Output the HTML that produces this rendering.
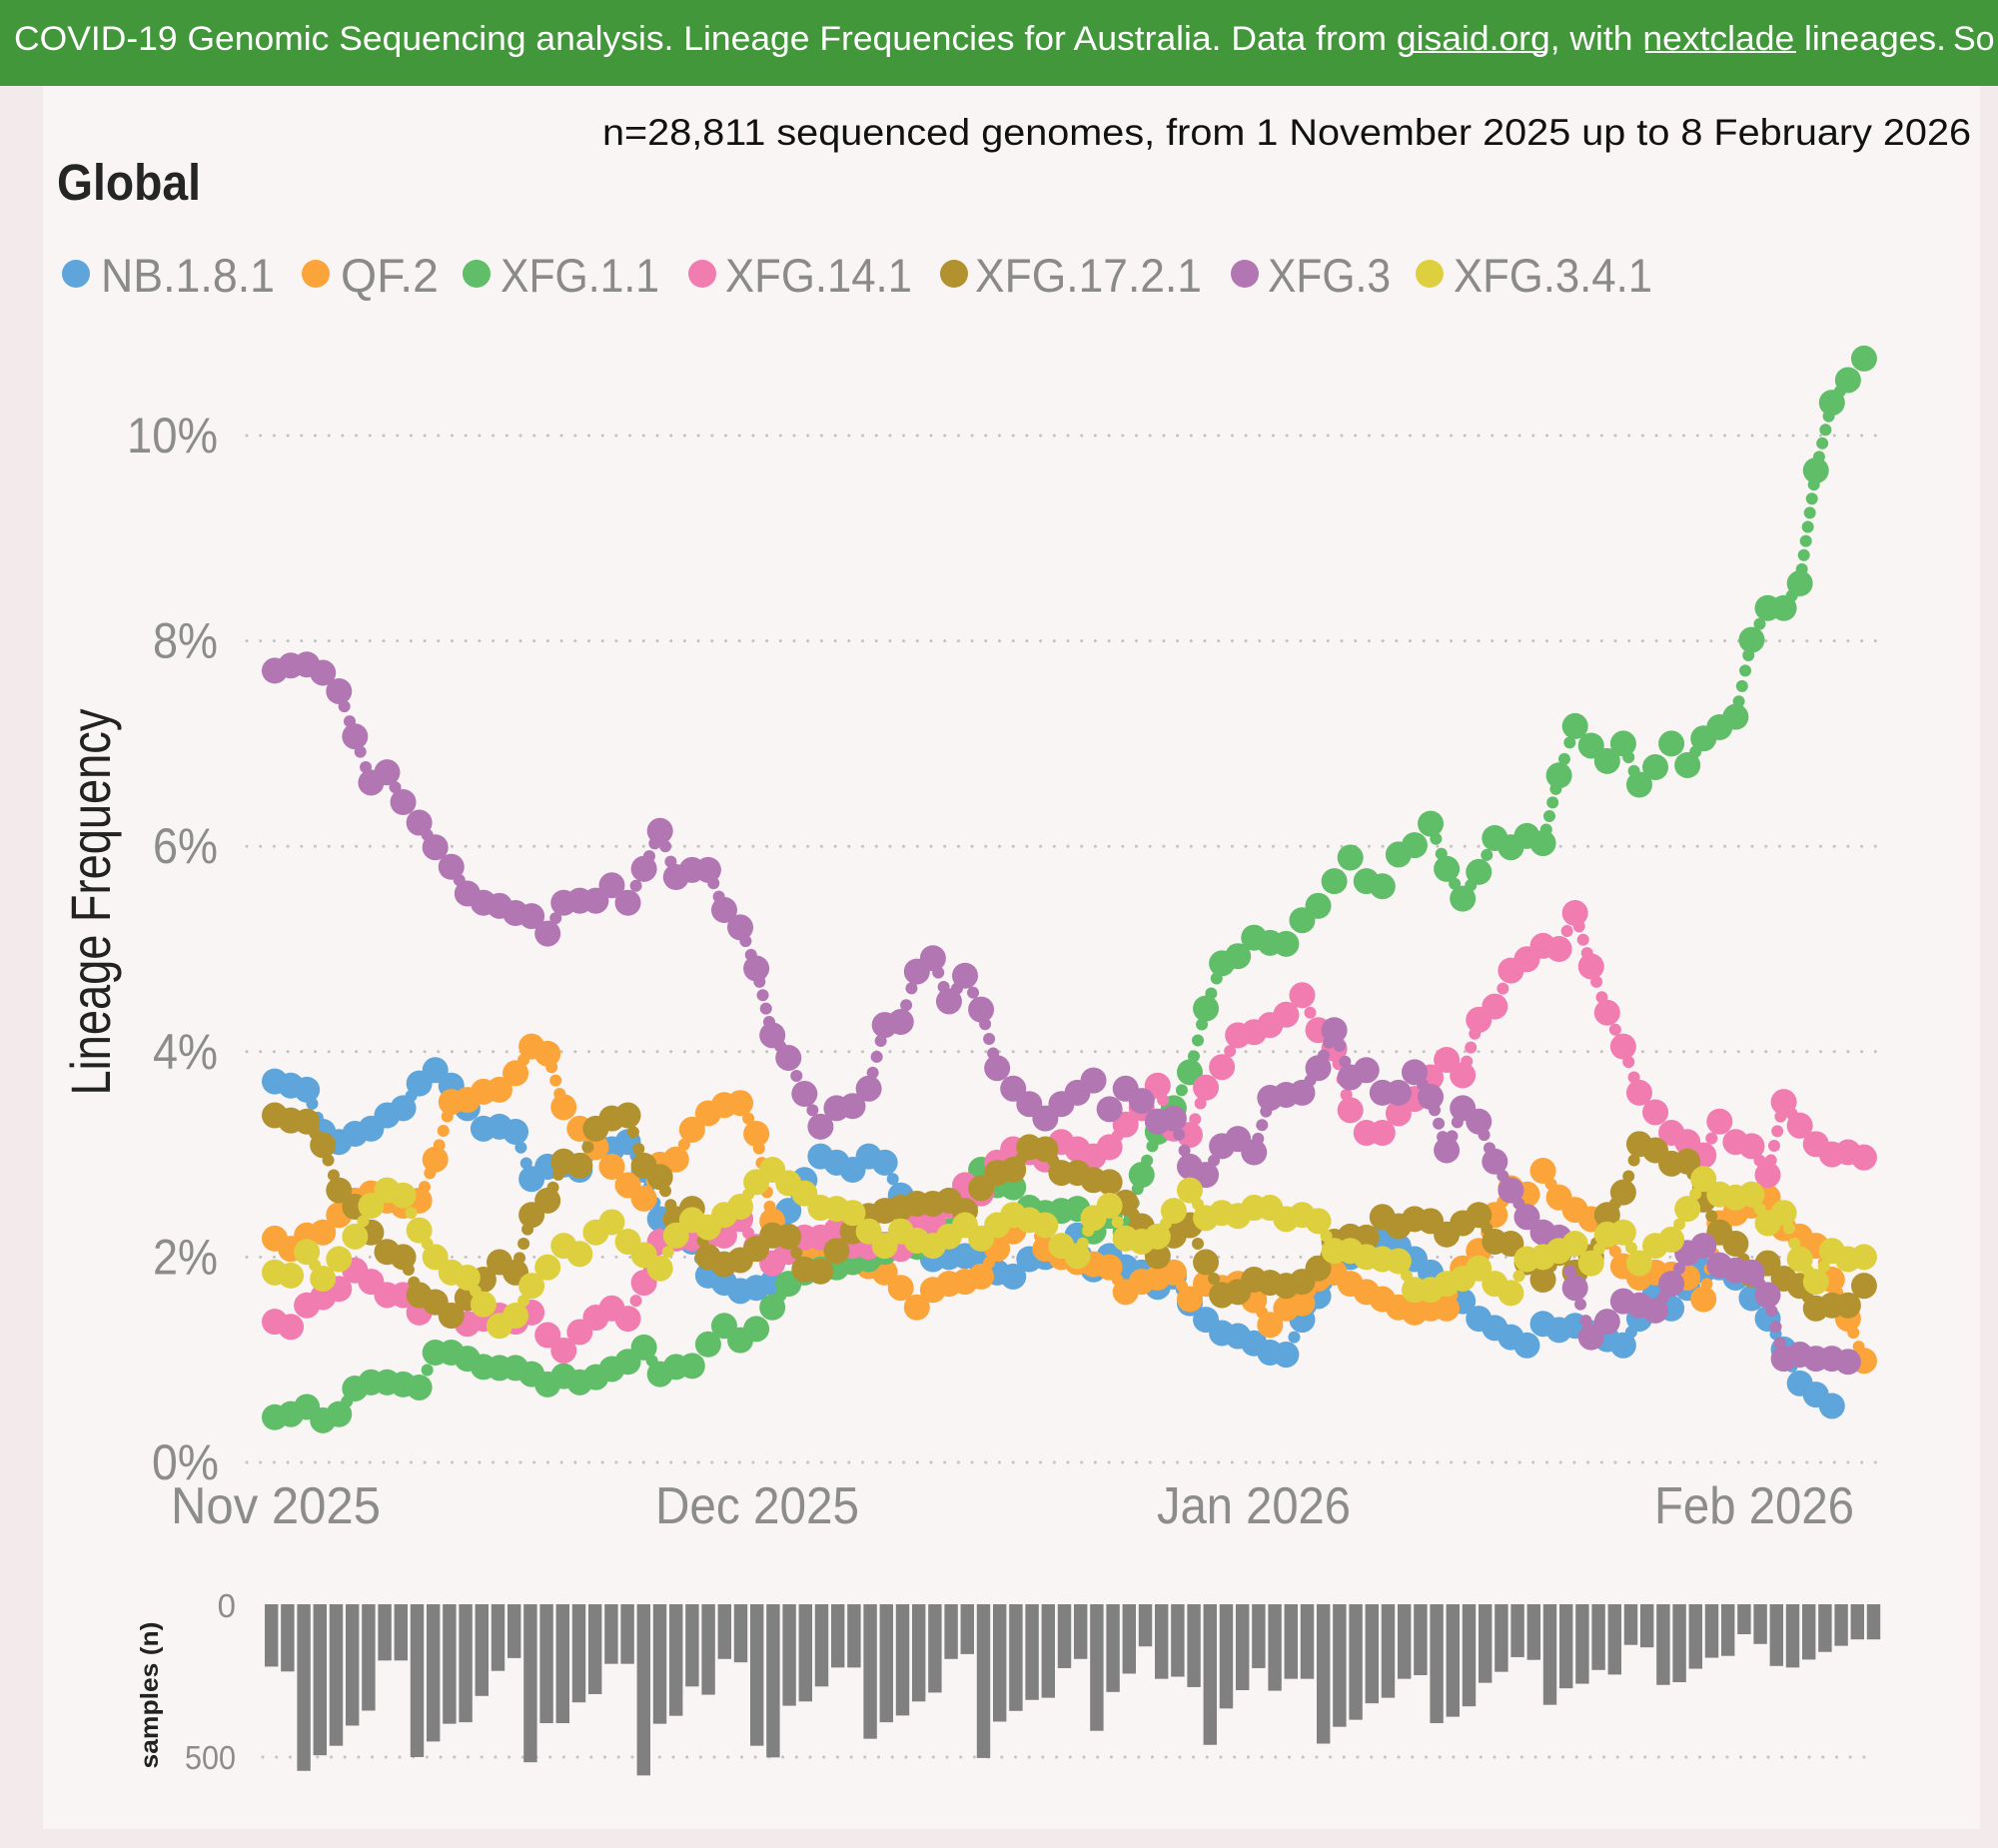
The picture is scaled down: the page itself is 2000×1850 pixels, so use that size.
<!DOCTYPE html>
<html><head><meta charset="utf-8"><style>html,body{margin:0;padding:0;overflow:hidden;background:#f3eaeb}svg{display:block}</style></head>
<body>
<svg width="2000" height="1850" viewBox="0 0 2000 1850" xmlns="http://www.w3.org/2000/svg" font-family="'Liberation Sans', sans-serif">
<defs>
<ellipse id="b" rx="0.809" ry="0.1265"/>
<ellipse id="s" rx="0.3734" ry="0.0584"/>
</defs>
<rect width="2000" height="1850" fill="#f3eaeb"/>
<rect x="43" y="86" width="1939" height="1745" fill="#f8f5f4"/>
<rect width="2000" height="86" fill="#43973b"/>
<text x="14" y="50" font-size="34" fill="#fff" textLength="1934" lengthAdjust="spacingAndGlyphs">COVID-19 Genomic Sequencing analysis. Lineage Frequencies for Australia. Data from gisaid.org, with nextclade lineages.</text>
<text x="1955" y="50" font-size="34" fill="#fff">So</text>
<line x1="1413" y1="52" x2="1547" y2="52" stroke="#fff" stroke-width="2"/>
<line x1="1647" y1="52" x2="1798" y2="52" stroke="#fff" stroke-width="2"/>

<text x="603" y="145" font-size="37" fill="#111" textLength="1370" lengthAdjust="spacingAndGlyphs">n=28,811 sequenced genomes, from 1 November 2025 up to 8 February 2026</text>
<text x="57" y="200" font-size="51" font-weight="bold" fill="#252525" textLength="144" lengthAdjust="spacingAndGlyphs">Global</text>

<g font-size="47" fill="#8a8a8a">
<circle cx="76" cy="274" r="14" fill="#5DA5DA"/><text x="101" y="292" textLength="174" lengthAdjust="spacingAndGlyphs">NB.1.8.1</text>
<circle cx="316" cy="274" r="14" fill="#FAA43A"/><text x="341" y="292" textLength="98" lengthAdjust="spacingAndGlyphs">QF.2</text>
<circle cx="477" cy="274" r="14" fill="#60BD68"/><text x="501" y="292" textLength="159" lengthAdjust="spacingAndGlyphs">XFG.1.1</text>
<circle cx="703" cy="274" r="14" fill="#F17CB0"/><text x="726" y="292" textLength="187" lengthAdjust="spacingAndGlyphs">XFG.14.1</text>
<circle cx="955" cy="274" r="14" fill="#B2912F"/><text x="976" y="292" textLength="227" lengthAdjust="spacingAndGlyphs">XFG.17.2.1</text>
<circle cx="1246" cy="274" r="14" fill="#B276B2"/><text x="1269" y="292" textLength="123" lengthAdjust="spacingAndGlyphs">XFG.3</text>
<circle cx="1431" cy="274" r="14" fill="#DECF3F"/><text x="1455" y="292" textLength="199" lengthAdjust="spacingAndGlyphs">XFG.3.4.1</text>
</g>

<g stroke="#c2c2c2" stroke-width="3" stroke-linecap="round" stroke-dasharray="0 13.7">
<line x1="247" x2="1885" y1="1464" y2="1464"/>
<line x1="247" x2="1885" y1="1258.4" y2="1258.4"/>
<line x1="247" x2="1885" y1="1052.8" y2="1052.8"/>
<line x1="247" x2="1885" y1="847.2" y2="847.2"/>
<line x1="247" x2="1885" y1="641.6" y2="641.6"/>
<line x1="247" x2="1885" y1="436" y2="436"/>
<line x1="263" x2="1874" y1="1759" y2="1759"/>
</g>

<g font-size="50" fill="#8c8c8c" text-anchor="end">
<text x="218" y="453" textLength="91" lengthAdjust="spacingAndGlyphs">10%</text>
<text x="218" y="658.6" textLength="65" lengthAdjust="spacingAndGlyphs">8%</text>
<text x="218" y="864.2" textLength="65" lengthAdjust="spacingAndGlyphs">6%</text>
<text x="218" y="1069.8" textLength="65" lengthAdjust="spacingAndGlyphs">4%</text>
<text x="218" y="1275.4" textLength="65" lengthAdjust="spacingAndGlyphs">2%</text>
<text x="219" y="1481" textLength="67" lengthAdjust="spacingAndGlyphs">0%</text>
</g>
<g font-size="52" fill="#8c8c8c" text-anchor="middle">
<text x="276" y="1525" textLength="210" lengthAdjust="spacingAndGlyphs">Nov 2025</text>
<text x="758" y="1525" textLength="204" lengthAdjust="spacingAndGlyphs">Dec 2025</text>
<text x="1255" y="1525" textLength="194" lengthAdjust="spacingAndGlyphs">Jan 2026</text>
<text x="1756" y="1525" textLength="200" lengthAdjust="spacingAndGlyphs">Feb 2026</text>
</g>
<text transform="translate(110,903) rotate(-90)" text-anchor="middle" font-size="56" fill="#222" textLength="387" lengthAdjust="spacingAndGlyphs">Lineage Frequency</text>

<g transform="matrix(16.07 0 0 -102.8 275 1464)">
<g fill="#5DA5DA">
<use href="#b" x="0" y="3.71"/><use href="#b" x="1" y="3.67"/><use href="#b" x="2" y="3.63"/><use href="#b" x="3" y="3.22"/><use href="#b" x="4" y="3.12"/><use href="#b" x="5" y="3.20"/><use href="#b" x="6" y="3.25"/><use href="#b" x="7" y="3.38"/><use href="#b" x="8" y="3.45"/><use href="#b" x="9" y="3.69"/>
<use href="#b" x="10" y="3.82"/><use href="#b" x="11" y="3.67"/><use href="#b" x="12" y="3.45"/><use href="#b" x="13" y="3.25"/><use href="#b" x="14" y="3.27"/><use href="#b" x="15" y="3.22"/><use href="#b" x="16" y="2.76"/><use href="#b" x="17" y="2.88"/><use href="#b" x="18" y="2.90"/><use href="#b" x="19" y="2.85"/>
<use href="#b" x="20" y="3.09"/><use href="#b" x="21" y="3.05"/><use href="#b" x="22" y="3.12"/><use href="#b" x="23" y="2.85"/><use href="#b" x="24" y="2.37"/><use href="#b" x="25" y="2.20"/><use href="#b" x="26" y="2.15"/><use href="#b" x="27" y="1.82"/><use href="#b" x="28" y="1.75"/><use href="#b" x="29" y="1.67"/>
<use href="#b" x="30" y="1.70"/><use href="#b" x="31" y="1.75"/><use href="#b" x="32" y="2.45"/><use href="#b" x="33" y="2.75"/><use href="#b" x="34" y="2.98"/><use href="#b" x="35" y="2.92"/><use href="#b" x="36" y="2.85"/><use href="#b" x="37" y="2.98"/><use href="#b" x="38" y="2.92"/><use href="#b" x="39" y="2.60"/>
<use href="#b" x="40" y="2.20"/><use href="#b" x="41" y="1.98"/><use href="#b" x="42" y="2.00"/><use href="#b" x="43" y="2.01"/><use href="#b" x="44" y="1.95"/><use href="#b" x="45" y="1.85"/><use href="#b" x="46" y="1.81"/><use href="#b" x="47" y="1.98"/><use href="#b" x="48" y="2.00"/><use href="#b" x="49" y="2.10"/>
<use href="#b" x="50" y="2.21"/><use href="#b" x="51" y="1.88"/><use href="#b" x="52" y="2.01"/><use href="#b" x="53" y="1.90"/><use href="#b" x="54" y="1.85"/><use href="#b" x="55" y="1.71"/><use href="#b" x="56" y="1.81"/><use href="#b" x="57" y="1.55"/><use href="#b" x="58" y="1.39"/><use href="#b" x="59" y="1.26"/>
<use href="#b" x="60" y="1.23"/><use href="#b" x="61" y="1.16"/><use href="#b" x="62" y="1.07"/><use href="#b" x="63" y="1.05"/><use href="#b" x="64" y="1.39"/><use href="#b" x="65" y="1.62"/><use href="#b" x="66" y="1.85"/><use href="#b" x="67" y="2.00"/><use href="#b" x="68" y="2.10"/><use href="#b" x="69" y="2.20"/>
<use href="#b" x="70" y="2.10"/><use href="#b" x="71" y="1.98"/><use href="#b" x="72" y="1.85"/><use href="#b" x="73" y="1.70"/><use href="#b" x="74" y="1.57"/><use href="#b" x="75" y="1.40"/><use href="#b" x="76" y="1.31"/><use href="#b" x="77" y="1.22"/><use href="#b" x="78" y="1.14"/><use href="#b" x="79" y="1.35"/>
<use href="#b" x="80" y="1.29"/><use href="#b" x="81" y="1.33"/><use href="#b" x="82" y="1.26"/><use href="#b" x="83" y="1.20"/><use href="#b" x="84" y="1.14"/><use href="#b" x="85" y="1.40"/><use href="#b" x="86" y="1.65"/><use href="#b" x="87" y="1.50"/><use href="#b" x="88" y="1.70"/><use href="#b" x="89" y="1.87"/>
<use href="#b" x="90" y="1.90"/><use href="#b" x="91" y="1.80"/><use href="#b" x="92" y="1.60"/><use href="#b" x="93" y="1.40"/><use href="#b" x="94" y="1.10"/><use href="#b" x="95" y="0.77"/><use href="#b" x="96" y="0.66"/><use href="#b" x="97" y="0.55"/>
<use href="#s" x="2.333" y="3.493"/><use href="#s" x="2.667" y="3.357"/><use href="#s" x="8.5" y="3.57"/><use href="#s" x="15.333" y="3.067"/><use href="#s" x="15.667" y="2.913"/><use href="#s" x="19.5" y="2.97"/><use href="#s" x="22.5" y="2.985"/><use href="#s" x="23.333" y="2.69"/><use href="#s" x="23.667" y="2.53"/><use href="#s" x="26.5" y="1.985"/>
<use href="#s" x="31.2" y="1.89"/><use href="#s" x="31.4" y="2.03"/><use href="#s" x="31.6" y="2.17"/><use href="#s" x="31.8" y="2.31"/><use href="#s" x="32.5" y="2.60"/><use href="#s" x="38.5" y="2.76"/><use href="#s" x="39.333" y="2.467"/><use href="#s" x="39.667" y="2.333"/><use href="#s" x="40.5" y="2.09"/><use href="#s" x="50.5" y="2.045"/>
<use href="#s" x="56.5" y="1.68"/><use href="#s" x="63.5" y="1.22"/><use href="#s" x="64.5" y="1.505"/><use href="#s" x="65.5" y="1.735"/><use href="#s" x="84.5" y="1.27"/><use href="#s" x="85.5" y="1.525"/><use href="#s" x="93.5" y="1.25"/><use href="#s" x="94.5" y="0.935"/>
</g>
<g fill="#FAA43A">
<use href="#b" x="0" y="2.18"/><use href="#b" x="1" y="2.08"/><use href="#b" x="2" y="2.21"/><use href="#b" x="3" y="2.24"/><use href="#b" x="4" y="2.41"/><use href="#b" x="5" y="2.55"/><use href="#b" x="6" y="2.62"/><use href="#b" x="7" y="2.55"/><use href="#b" x="8" y="2.50"/><use href="#b" x="9" y="2.55"/>
<use href="#b" x="10" y="2.95"/><use href="#b" x="11" y="3.51"/><use href="#b" x="12" y="3.53"/><use href="#b" x="13" y="3.61"/><use href="#b" x="14" y="3.63"/><use href="#b" x="15" y="3.79"/><use href="#b" x="16" y="4.05"/><use href="#b" x="17" y="3.98"/><use href="#b" x="18" y="3.46"/><use href="#b" x="19" y="3.25"/>
<use href="#b" x="20" y="3.07"/><use href="#b" x="21" y="2.88"/><use href="#b" x="22" y="2.70"/><use href="#b" x="23" y="2.57"/><use href="#b" x="24" y="2.90"/><use href="#b" x="25" y="2.95"/><use href="#b" x="26" y="3.24"/><use href="#b" x="27" y="3.40"/><use href="#b" x="28" y="3.48"/><use href="#b" x="29" y="3.50"/>
<use href="#b" x="30" y="3.20"/><use href="#b" x="31" y="2.35"/><use href="#b" x="32" y="2.10"/><use href="#b" x="33" y="2.05"/><use href="#b" x="34" y="2.00"/><use href="#b" x="35" y="1.97"/><use href="#b" x="36" y="1.95"/><use href="#b" x="37" y="1.91"/><use href="#b" x="38" y="1.85"/><use href="#b" x="39" y="1.70"/>
<use href="#b" x="40" y="1.51"/><use href="#b" x="41" y="1.68"/><use href="#b" x="42" y="1.74"/><use href="#b" x="43" y="1.76"/><use href="#b" x="44" y="1.81"/><use href="#b" x="45" y="2.08"/><use href="#b" x="46" y="2.25"/><use href="#b" x="47" y="2.45"/><use href="#b" x="48" y="2.08"/><use href="#b" x="49" y="2.00"/>
<use href="#b" x="50" y="1.95"/><use href="#b" x="51" y="1.93"/><use href="#b" x="52" y="1.90"/><use href="#b" x="53" y="1.66"/><use href="#b" x="54" y="1.76"/><use href="#b" x="55" y="1.80"/><use href="#b" x="56" y="1.85"/><use href="#b" x="57" y="1.59"/><use href="#b" x="58" y="1.74"/><use href="#b" x="59" y="1.70"/>
<use href="#b" x="60" y="1.74"/><use href="#b" x="61" y="1.58"/><use href="#b" x="62" y="1.34"/><use href="#b" x="63" y="1.50"/><use href="#b" x="64" y="1.55"/><use href="#b" x="65" y="1.79"/><use href="#b" x="66" y="1.85"/><use href="#b" x="67" y="1.74"/><use href="#b" x="68" y="1.66"/><use href="#b" x="69" y="1.59"/>
<use href="#b" x="70" y="1.51"/><use href="#b" x="71" y="1.46"/><use href="#b" x="72" y="1.50"/><use href="#b" x="73" y="1.50"/><use href="#b" x="74" y="1.89"/><use href="#b" x="75" y="2.06"/><use href="#b" x="76" y="2.41"/><use href="#b" x="77" y="2.67"/><use href="#b" x="78" y="2.61"/><use href="#b" x="79" y="2.84"/>
<use href="#b" x="80" y="2.58"/><use href="#b" x="81" y="2.46"/><use href="#b" x="82" y="2.37"/><use href="#b" x="83" y="2.20"/><use href="#b" x="84" y="1.91"/><use href="#b" x="85" y="1.80"/><use href="#b" x="86" y="1.85"/><use href="#b" x="87" y="1.83"/><use href="#b" x="88" y="1.80"/><use href="#b" x="89" y="1.59"/>
<use href="#b" x="90" y="2.33"/><use href="#b" x="91" y="2.43"/><use href="#b" x="92" y="2.50"/><use href="#b" x="93" y="2.58"/><use href="#b" x="94" y="2.28"/><use href="#b" x="95" y="2.20"/><use href="#b" x="96" y="2.11"/><use href="#b" x="97" y="1.78"/><use href="#b" x="98" y="1.40"/><use href="#b" x="99" y="0.99"/>
<use href="#s" x="9.333" y="2.683"/><use href="#s" x="9.667" y="2.817"/><use href="#s" x="10.25" y="3.09"/><use href="#s" x="10.5" y="3.23"/><use href="#s" x="10.75" y="3.37"/><use href="#s" x="15.5" y="3.92"/><use href="#s" x="17.25" y="3.85"/><use href="#s" x="17.5" y="3.72"/><use href="#s" x="17.75" y="3.59"/><use href="#s" x="23.5" y="2.735"/>
<use href="#s" x="25.5" y="3.095"/><use href="#s" x="29.5" y="3.35"/><use href="#s" x="30.167" y="3.058"/><use href="#s" x="30.333" y="2.917"/><use href="#s" x="30.5" y="2.775"/><use href="#s" x="30.667" y="2.633"/><use href="#s" x="30.833" y="2.492"/><use href="#s" x="31.5" y="2.225"/><use href="#s" x="44.5" y="1.945"/><use href="#s" x="47.333" y="2.327"/>
<use href="#s" x="47.667" y="2.203"/><use href="#s" x="52.5" y="1.78"/><use href="#s" x="56.5" y="1.72"/><use href="#s" x="61.5" y="1.46"/><use href="#s" x="64.5" y="1.67"/><use href="#s" x="73.333" y="1.63"/><use href="#s" x="73.667" y="1.76"/><use href="#s" x="75.5" y="2.235"/><use href="#s" x="76.5" y="2.54"/><use href="#s" x="79.5" y="2.71"/>
<use href="#s" x="83.5" y="2.055"/><use href="#s" x="89.2" y="1.738"/><use href="#s" x="89.4" y="1.886"/><use href="#s" x="89.6" y="2.034"/><use href="#s" x="89.8" y="2.182"/><use href="#s" x="93.5" y="2.43"/><use href="#s" x="96.5" y="1.945"/><use href="#s" x="97.333" y="1.653"/><use href="#s" x="97.667" y="1.527"/><use href="#s" x="98.333" y="1.263"/><use href="#s" x="98.667" y="1.127"/>
</g>
<g fill="#60BD68">
<use href="#b" x="0" y="0.44"/><use href="#b" x="1" y="0.47"/><use href="#b" x="2" y="0.54"/><use href="#b" x="3" y="0.41"/><use href="#b" x="4" y="0.47"/><use href="#b" x="5" y="0.72"/><use href="#b" x="6" y="0.78"/><use href="#b" x="7" y="0.78"/><use href="#b" x="8" y="0.76"/><use href="#b" x="9" y="0.73"/>
<use href="#b" x="10" y="1.07"/><use href="#b" x="11" y="1.07"/><use href="#b" x="12" y="1.01"/><use href="#b" x="13" y="0.93"/><use href="#b" x="14" y="0.92"/><use href="#b" x="15" y="0.92"/><use href="#b" x="16" y="0.86"/><use href="#b" x="17" y="0.76"/><use href="#b" x="18" y="0.84"/><use href="#b" x="19" y="0.78"/>
<use href="#b" x="20" y="0.83"/><use href="#b" x="21" y="0.91"/><use href="#b" x="22" y="0.98"/><use href="#b" x="23" y="1.12"/><use href="#b" x="24" y="0.86"/><use href="#b" x="25" y="0.93"/><use href="#b" x="26" y="0.94"/><use href="#b" x="27" y="1.15"/><use href="#b" x="28" y="1.33"/><use href="#b" x="29" y="1.19"/>
<use href="#b" x="30" y="1.30"/><use href="#b" x="31" y="1.51"/><use href="#b" x="32" y="1.74"/><use href="#b" x="33" y="1.85"/><use href="#b" x="34" y="1.88"/><use href="#b" x="35" y="1.90"/><use href="#b" x="36" y="1.95"/><use href="#b" x="37" y="1.98"/><use href="#b" x="38" y="2.05"/><use href="#b" x="39" y="2.10"/>
<use href="#b" x="40" y="2.10"/><use href="#b" x="41" y="2.15"/><use href="#b" x="42" y="2.25"/><use href="#b" x="43" y="2.50"/><use href="#b" x="44" y="2.85"/><use href="#b" x="45" y="2.70"/><use href="#b" x="46" y="2.68"/><use href="#b" x="47" y="2.48"/><use href="#b" x="48" y="2.43"/><use href="#b" x="49" y="2.45"/>
<use href="#b" x="50" y="2.47"/><use href="#b" x="51" y="2.25"/><use href="#b" x="52" y="2.40"/><use href="#b" x="53" y="2.25"/><use href="#b" x="54" y="2.80"/><use href="#b" x="55" y="3.22"/><use href="#b" x="56" y="3.45"/><use href="#b" x="57" y="3.80"/><use href="#b" x="58" y="4.42"/><use href="#b" x="59" y="4.86"/>
<use href="#b" x="60" y="4.93"/><use href="#b" x="61" y="5.11"/><use href="#b" x="62" y="5.06"/><use href="#b" x="63" y="5.05"/><use href="#b" x="64" y="5.28"/><use href="#b" x="65" y="5.42"/><use href="#b" x="66" y="5.66"/><use href="#b" x="67" y="5.89"/><use href="#b" x="68" y="5.66"/><use href="#b" x="69" y="5.61"/>
<use href="#b" x="70" y="5.92"/><use href="#b" x="71" y="6.01"/><use href="#b" x="72" y="6.22"/><use href="#b" x="73" y="5.78"/><use href="#b" x="74" y="5.49"/><use href="#b" x="75" y="5.75"/><use href="#b" x="76" y="6.08"/><use href="#b" x="77" y="5.99"/><use href="#b" x="78" y="6.10"/><use href="#b" x="79" y="6.03"/>
<use href="#b" x="80" y="6.69"/><use href="#b" x="81" y="7.17"/><use href="#b" x="82" y="6.98"/><use href="#b" x="83" y="6.83"/><use href="#b" x="84" y="7.00"/><use href="#b" x="85" y="6.60"/><use href="#b" x="86" y="6.77"/><use href="#b" x="87" y="7.00"/><use href="#b" x="88" y="6.79"/><use href="#b" x="89" y="7.05"/>
<use href="#b" x="90" y="7.16"/><use href="#b" x="91" y="7.26"/><use href="#b" x="92" y="8.01"/><use href="#b" x="93" y="8.32"/><use href="#b" x="94" y="8.32"/><use href="#b" x="95" y="8.56"/><use href="#b" x="96" y="9.66"/><use href="#b" x="97" y="10.32"/><use href="#b" x="98" y="10.54"/><use href="#b" x="99" y="10.75"/>
<use href="#s" x="4.5" y="0.595"/><use href="#s" x="9.5" y="0.90"/><use href="#s" x="23.5" y="0.99"/><use href="#s" x="31.5" y="1.625"/><use href="#s" x="42.5" y="2.375"/><use href="#s" x="43.5" y="2.675"/><use href="#s" x="53.25" y="2.3875"/><use href="#s" x="53.5" y="2.525"/><use href="#s" x="53.75" y="2.6625"/><use href="#s" x="54.333" y="2.94"/>
<use href="#s" x="54.667" y="3.08"/><use href="#s" x="55.5" y="3.335"/><use href="#s" x="56.5" y="3.625"/><use href="#s" x="57.25" y="3.955"/><use href="#s" x="57.5" y="4.11"/><use href="#s" x="57.75" y="4.265"/><use href="#s" x="58.333" y="4.567"/><use href="#s" x="58.667" y="4.713"/><use href="#s" x="72.333" y="6.073"/><use href="#s" x="72.667" y="5.927"/>
<use href="#s" x="73.5" y="5.635"/><use href="#s" x="74.5" y="5.62"/><use href="#s" x="75.5" y="5.915"/><use href="#s" x="79.2" y="6.162"/><use href="#s" x="79.4" y="6.294"/><use href="#s" x="79.6" y="6.426"/><use href="#s" x="79.8" y="6.558"/><use href="#s" x="80.333" y="6.85"/><use href="#s" x="80.667" y="7.01"/><use href="#s" x="84.333" y="6.867"/>
<use href="#s" x="84.667" y="6.733"/><use href="#s" x="88.5" y="6.92"/><use href="#s" x="91.2" y="7.41"/><use href="#s" x="91.4" y="7.56"/><use href="#s" x="91.6" y="7.71"/><use href="#s" x="91.8" y="7.86"/><use href="#s" x="92.5" y="8.165"/><use href="#s" x="94.5" y="8.44"/><use href="#s" x="95.125" y="8.6975"/><use href="#s" x="95.25" y="8.835"/>
<use href="#s" x="95.375" y="8.9725"/><use href="#s" x="95.5" y="9.11"/><use href="#s" x="95.625" y="9.2475"/><use href="#s" x="95.75" y="9.385"/><use href="#s" x="95.875" y="9.5225"/><use href="#s" x="96.2" y="9.792"/><use href="#s" x="96.4" y="9.924"/><use href="#s" x="96.6" y="10.056"/><use href="#s" x="96.8" y="10.188"/><use href="#s" x="97.5" y="10.43"/>
</g>
<g fill="#F17CB0">
<use href="#b" x="0" y="1.37"/><use href="#b" x="1" y="1.32"/><use href="#b" x="2" y="1.53"/><use href="#b" x="3" y="1.61"/><use href="#b" x="4" y="1.69"/><use href="#b" x="5" y="1.87"/><use href="#b" x="6" y="1.76"/><use href="#b" x="7" y="1.63"/><use href="#b" x="8" y="1.63"/><use href="#b" x="9" y="1.46"/>
<use href="#b" x="10" y="1.56"/><use href="#b" x="11" y="1.43"/><use href="#b" x="12" y="1.35"/><use href="#b" x="13" y="1.40"/><use href="#b" x="14" y="1.43"/><use href="#b" x="15" y="1.37"/><use href="#b" x="16" y="1.46"/><use href="#b" x="17" y="1.24"/><use href="#b" x="18" y="1.09"/><use href="#b" x="19" y="1.27"/>
<use href="#b" x="20" y="1.41"/><use href="#b" x="21" y="1.50"/><use href="#b" x="22" y="1.40"/><use href="#b" x="23" y="1.75"/><use href="#b" x="24" y="2.15"/><use href="#b" x="25" y="2.18"/><use href="#b" x="26" y="2.18"/><use href="#b" x="27" y="2.20"/><use href="#b" x="28" y="2.21"/><use href="#b" x="29" y="2.37"/>
<use href="#b" x="30" y="2.10"/><use href="#b" x="31" y="1.94"/><use href="#b" x="32" y="2.05"/><use href="#b" x="33" y="2.19"/><use href="#b" x="34" y="2.19"/><use href="#b" x="35" y="2.26"/><use href="#b" x="36" y="2.11"/><use href="#b" x="37" y="2.10"/><use href="#b" x="38" y="2.12"/><use href="#b" x="39" y="2.08"/>
<use href="#b" x="40" y="2.35"/><use href="#b" x="41" y="2.35"/><use href="#b" x="42" y="2.50"/><use href="#b" x="43" y="2.70"/><use href="#b" x="44" y="2.62"/><use href="#b" x="45" y="2.92"/><use href="#b" x="46" y="3.05"/><use href="#b" x="47" y="3.02"/><use href="#b" x="48" y="2.95"/><use href="#b" x="49" y="3.12"/>
<use href="#b" x="50" y="3.05"/><use href="#b" x="51" y="2.98"/><use href="#b" x="52" y="3.07"/><use href="#b" x="53" y="3.29"/><use href="#b" x="54" y="3.45"/><use href="#b" x="55" y="3.67"/><use href="#b" x="56" y="3.25"/><use href="#b" x="57" y="3.19"/><use href="#b" x="58" y="3.65"/><use href="#b" x="59" y="3.85"/>
<use href="#b" x="60" y="4.16"/><use href="#b" x="61" y="4.19"/><use href="#b" x="62" y="4.26"/><use href="#b" x="63" y="4.36"/><use href="#b" x="64" y="4.55"/><use href="#b" x="65" y="4.21"/><use href="#b" x="66" y="4.03"/><use href="#b" x="67" y="3.43"/><use href="#b" x="68" y="3.21"/><use href="#b" x="69" y="3.21"/>
<use href="#b" x="70" y="3.40"/><use href="#b" x="71" y="3.54"/><use href="#b" x="72" y="3.75"/><use href="#b" x="73" y="3.92"/><use href="#b" x="74" y="3.77"/><use href="#b" x="75" y="4.31"/><use href="#b" x="76" y="4.44"/><use href="#b" x="77" y="4.79"/><use href="#b" x="78" y="4.90"/><use href="#b" x="79" y="5.03"/>
<use href="#b" x="80" y="5.00"/><use href="#b" x="81" y="5.35"/><use href="#b" x="82" y="4.83"/><use href="#b" x="83" y="4.38"/><use href="#b" x="84" y="4.05"/><use href="#b" x="85" y="3.60"/><use href="#b" x="86" y="3.41"/><use href="#b" x="87" y="3.21"/><use href="#b" x="88" y="3.12"/><use href="#b" x="89" y="2.99"/>
<use href="#b" x="90" y="3.32"/><use href="#b" x="91" y="3.12"/><use href="#b" x="92" y="3.08"/><use href="#b" x="93" y="2.80"/><use href="#b" x="94" y="3.51"/><use href="#b" x="95" y="3.28"/><use href="#b" x="96" y="3.10"/><use href="#b" x="97" y="3.00"/><use href="#b" x="98" y="3.02"/><use href="#b" x="99" y="2.97"/>
<use href="#s" x="22.5" y="1.575"/><use href="#s" x="23.333" y="1.883"/><use href="#s" x="23.667" y="2.017"/><use href="#s" x="29.5" y="2.235"/><use href="#s" x="39.5" y="2.215"/><use href="#s" x="44.5" y="2.77"/><use href="#s" x="52.5" y="3.18"/><use href="#s" x="54.5" y="3.56"/><use href="#s" x="55.333" y="3.53"/><use href="#s" x="55.667" y="3.39"/>
<use href="#s" x="57.333" y="3.343"/><use href="#s" x="57.667" y="3.497"/><use href="#s" x="59.5" y="4.005"/><use href="#s" x="64.5" y="4.38"/><use href="#s" x="66.25" y="3.88"/><use href="#s" x="66.5" y="3.73"/><use href="#s" x="66.75" y="3.58"/><use href="#s" x="74.25" y="3.905"/><use href="#s" x="74.5" y="4.04"/><use href="#s" x="74.75" y="4.175"/>
<use href="#s" x="76.5" y="4.615"/><use href="#s" x="80.5" y="5.175"/><use href="#s" x="81.25" y="5.22"/><use href="#s" x="81.5" y="5.09"/><use href="#s" x="81.75" y="4.96"/><use href="#s" x="82.333" y="4.68"/><use href="#s" x="82.667" y="4.53"/><use href="#s" x="83.5" y="4.215"/><use href="#s" x="84.333" y="3.9"/><use href="#s" x="84.667" y="3.75"/>
<use href="#s" x="89.5" y="3.155"/><use href="#s" x="92.5" y="2.94"/><use href="#s" x="93.2" y="2.942"/><use href="#s" x="93.4" y="3.084"/><use href="#s" x="93.6" y="3.226"/><use href="#s" x="93.8" y="3.368"/><use href="#s" x="94.5" y="3.395"/>
</g>
<g fill="#B2912F">
<use href="#b" x="0" y="3.38"/><use href="#b" x="1" y="3.33"/><use href="#b" x="2" y="3.32"/><use href="#b" x="3" y="3.09"/><use href="#b" x="4" y="2.65"/><use href="#b" x="5" y="2.49"/><use href="#b" x="6" y="2.24"/><use href="#b" x="7" y="2.05"/><use href="#b" x="8" y="2.00"/><use href="#b" x="9" y="1.63"/>
<use href="#b" x="10" y="1.56"/><use href="#b" x="11" y="1.43"/><use href="#b" x="12" y="1.60"/><use href="#b" x="13" y="1.78"/><use href="#b" x="14" y="1.95"/><use href="#b" x="15" y="1.85"/><use href="#b" x="16" y="2.41"/><use href="#b" x="17" y="2.55"/><use href="#b" x="18" y="2.93"/><use href="#b" x="19" y="2.89"/>
<use href="#b" x="20" y="3.25"/><use href="#b" x="21" y="3.35"/><use href="#b" x="22" y="3.38"/><use href="#b" x="23" y="2.89"/><use href="#b" x="24" y="2.78"/><use href="#b" x="25" y="2.37"/><use href="#b" x="26" y="2.47"/><use href="#b" x="27" y="2.00"/><use href="#b" x="28" y="1.93"/><use href="#b" x="29" y="1.97"/>
<use href="#b" x="30" y="2.08"/><use href="#b" x="31" y="2.21"/><use href="#b" x="32" y="2.20"/><use href="#b" x="33" y="1.88"/><use href="#b" x="34" y="1.86"/><use href="#b" x="35" y="2.06"/><use href="#b" x="36" y="2.25"/><use href="#b" x="37" y="2.40"/><use href="#b" x="38" y="2.45"/><use href="#b" x="39" y="2.48"/>
<use href="#b" x="40" y="2.52"/><use href="#b" x="41" y="2.52"/><use href="#b" x="42" y="2.55"/><use href="#b" x="43" y="2.45"/><use href="#b" x="44" y="2.67"/><use href="#b" x="45" y="2.82"/><use href="#b" x="46" y="2.85"/><use href="#b" x="47" y="3.07"/><use href="#b" x="48" y="3.05"/><use href="#b" x="49" y="2.82"/>
<use href="#b" x="50" y="2.82"/><use href="#b" x="51" y="2.75"/><use href="#b" x="52" y="2.73"/><use href="#b" x="53" y="2.53"/><use href="#b" x="54" y="2.30"/><use href="#b" x="55" y="2.01"/><use href="#b" x="56" y="2.21"/><use href="#b" x="57" y="2.31"/><use href="#b" x="58" y="1.95"/><use href="#b" x="59" y="1.63"/>
<use href="#b" x="60" y="1.66"/><use href="#b" x="61" y="1.78"/><use href="#b" x="62" y="1.75"/><use href="#b" x="63" y="1.72"/><use href="#b" x="64" y="1.76"/><use href="#b" x="65" y="1.89"/><use href="#b" x="66" y="2.15"/><use href="#b" x="67" y="2.20"/><use href="#b" x="68" y="2.19"/><use href="#b" x="69" y="2.39"/>
<use href="#b" x="70" y="2.30"/><use href="#b" x="71" y="2.37"/><use href="#b" x="72" y="2.35"/><use href="#b" x="73" y="2.22"/><use href="#b" x="74" y="2.33"/><use href="#b" x="75" y="2.41"/><use href="#b" x="76" y="2.15"/><use href="#b" x="77" y="2.13"/><use href="#b" x="78" y="1.95"/><use href="#b" x="79" y="1.78"/>
<use href="#b" x="80" y="2.04"/><use href="#b" x="81" y="1.85"/><use href="#b" x="82" y="2.00"/><use href="#b" x="83" y="2.41"/><use href="#b" x="84" y="2.63"/><use href="#b" x="85" y="3.10"/><use href="#b" x="86" y="3.04"/><use href="#b" x="87" y="2.91"/><use href="#b" x="88" y="2.93"/><use href="#b" x="89" y="2.56"/>
<use href="#b" x="90" y="2.24"/><use href="#b" x="91" y="2.13"/><use href="#b" x="92" y="1.83"/><use href="#b" x="93" y="1.94"/><use href="#b" x="94" y="1.79"/><use href="#b" x="95" y="1.72"/><use href="#b" x="96" y="1.50"/><use href="#b" x="97" y="1.53"/><use href="#b" x="98" y="1.53"/><use href="#b" x="99" y="1.72"/>
<use href="#s" x="2.5" y="3.205"/><use href="#s" x="3.333" y="2.943"/><use href="#s" x="3.667" y="2.797"/><use href="#s" x="5.5" y="2.365"/><use href="#s" x="8.333" y="1.877"/><use href="#s" x="8.667" y="1.753"/><use href="#s" x="15.25" y="1.99"/><use href="#s" x="15.5" y="2.13"/><use href="#s" x="15.75" y="2.27"/><use href="#s" x="17.333" y="2.677"/>
<use href="#s" x="17.667" y="2.803"/><use href="#s" x="19.5" y="3.07"/><use href="#s" x="22.333" y="3.217"/><use href="#s" x="22.667" y="3.053"/><use href="#s" x="24.333" y="2.643"/><use href="#s" x="24.667" y="2.507"/><use href="#s" x="26.333" y="2.313"/><use href="#s" x="26.667" y="2.157"/><use href="#s" x="32.5" y="2.04"/><use href="#s" x="46.5" y="2.96"/>
<use href="#s" x="48.5" y="2.935"/><use href="#s" x="53.5" y="2.415"/><use href="#s" x="54.5" y="2.155"/><use href="#s" x="57.5" y="2.13"/><use href="#s" x="58.5" y="1.79"/><use href="#s" x="65.5" y="2.02"/><use href="#s" x="75.5" y="2.28"/><use href="#s" x="79.5" y="1.91"/><use href="#s" x="82.333" y="2.137"/><use href="#s" x="82.667" y="2.273"/>
<use href="#s" x="83.5" y="2.52"/><use href="#s" x="84.333" y="2.787"/><use href="#s" x="84.667" y="2.943"/><use href="#s" x="88.333" y="2.807"/><use href="#s" x="88.667" y="2.683"/><use href="#s" x="89.5" y="2.40"/><use href="#s" x="91.5" y="1.98"/><use href="#s" x="95.5" y="1.61"/>
</g>
<g fill="#B276B2">
<use href="#b" x="0" y="7.71"/><use href="#b" x="1" y="7.76"/><use href="#b" x="2" y="7.77"/><use href="#b" x="3" y="7.69"/><use href="#b" x="4" y="7.51"/><use href="#b" x="5" y="7.07"/><use href="#b" x="6" y="6.62"/><use href="#b" x="7" y="6.72"/><use href="#b" x="8" y="6.43"/><use href="#b" x="9" y="6.23"/>
<use href="#b" x="10" y="5.99"/><use href="#b" x="11" y="5.80"/><use href="#b" x="12" y="5.54"/><use href="#b" x="13" y="5.45"/><use href="#b" x="14" y="5.42"/><use href="#b" x="15" y="5.35"/><use href="#b" x="16" y="5.32"/><use href="#b" x="17" y="5.15"/><use href="#b" x="18" y="5.45"/><use href="#b" x="19" y="5.47"/>
<use href="#b" x="20" y="5.47"/><use href="#b" x="21" y="5.62"/><use href="#b" x="22" y="5.45"/><use href="#b" x="23" y="5.78"/><use href="#b" x="24" y="6.15"/><use href="#b" x="25" y="5.70"/><use href="#b" x="26" y="5.77"/><use href="#b" x="27" y="5.77"/><use href="#b" x="28" y="5.38"/><use href="#b" x="29" y="5.21"/>
<use href="#b" x="30" y="4.81"/><use href="#b" x="31" y="4.16"/><use href="#b" x="32" y="3.94"/><use href="#b" x="33" y="3.59"/><use href="#b" x="34" y="3.27"/><use href="#b" x="35" y="3.45"/><use href="#b" x="36" y="3.47"/><use href="#b" x="37" y="3.64"/><use href="#b" x="38" y="4.26"/><use href="#b" x="39" y="4.29"/>
<use href="#b" x="40" y="4.78"/><use href="#b" x="41" y="4.91"/><use href="#b" x="42" y="4.49"/><use href="#b" x="43" y="4.74"/><use href="#b" x="44" y="4.41"/><use href="#b" x="45" y="3.84"/><use href="#b" x="46" y="3.64"/><use href="#b" x="47" y="3.49"/><use href="#b" x="48" y="3.35"/><use href="#b" x="49" y="3.49"/>
<use href="#b" x="50" y="3.60"/><use href="#b" x="51" y="3.72"/><use href="#b" x="52" y="3.44"/><use href="#b" x="53" y="3.64"/><use href="#b" x="54" y="3.52"/><use href="#b" x="55" y="3.32"/><use href="#b" x="56" y="3.35"/><use href="#b" x="57" y="2.88"/><use href="#b" x="58" y="2.80"/><use href="#b" x="59" y="3.08"/>
<use href="#b" x="60" y="3.15"/><use href="#b" x="61" y="3.02"/><use href="#b" x="62" y="3.55"/><use href="#b" x="63" y="3.58"/><use href="#b" x="64" y="3.60"/><use href="#b" x="65" y="3.84"/><use href="#b" x="66" y="4.21"/><use href="#b" x="67" y="3.75"/><use href="#b" x="68" y="3.82"/><use href="#b" x="69" y="3.60"/>
<use href="#b" x="70" y="3.60"/><use href="#b" x="71" y="3.80"/><use href="#b" x="72" y="3.56"/><use href="#b" x="73" y="3.04"/><use href="#b" x="74" y="3.45"/><use href="#b" x="75" y="3.32"/><use href="#b" x="76" y="2.93"/><use href="#b" x="77" y="2.65"/><use href="#b" x="78" y="2.39"/><use href="#b" x="79" y="2.24"/>
<use href="#b" x="80" y="2.19"/><use href="#b" x="81" y="1.70"/><use href="#b" x="82" y="1.22"/><use href="#b" x="83" y="1.37"/><use href="#b" x="84" y="1.57"/><use href="#b" x="85" y="1.53"/><use href="#b" x="86" y="1.48"/><use href="#b" x="87" y="1.74"/><use href="#b" x="88" y="2.04"/><use href="#b" x="89" y="2.11"/>
<use href="#b" x="90" y="1.92"/><use href="#b" x="91" y="1.87"/><use href="#b" x="92" y="1.85"/><use href="#b" x="93" y="1.63"/><use href="#b" x="94" y="1.01"/><use href="#b" x="95" y="1.05"/><use href="#b" x="96" y="1.01"/><use href="#b" x="97" y="1.01"/><use href="#b" x="98" y="0.98"/>
<use href="#s" x="4.333" y="7.363"/><use href="#s" x="4.667" y="7.217"/><use href="#s" x="5.333" y="6.92"/><use href="#s" x="5.667" y="6.77"/><use href="#s" x="7.5" y="6.575"/><use href="#s" x="9.5" y="6.11"/><use href="#s" x="11.5" y="5.67"/><use href="#s" x="17.5" y="5.30"/><use href="#s" x="22.5" y="5.615"/><use href="#s" x="23.333" y="5.903"/>
<use href="#s" x="23.667" y="6.027"/><use href="#s" x="24.333" y="6.0"/><use href="#s" x="24.667" y="5.85"/><use href="#s" x="27.333" y="5.64"/><use href="#s" x="27.667" y="5.51"/><use href="#s" x="29.333" y="5.077"/><use href="#s" x="29.667" y="4.943"/><use href="#s" x="30.2" y="4.68"/><use href="#s" x="30.4" y="4.55"/><use href="#s" x="30.6" y="4.42"/>
<use href="#s" x="30.8" y="4.29"/><use href="#s" x="31.5" y="4.05"/><use href="#s" x="32.5" y="3.765"/><use href="#s" x="33.5" y="3.43"/><use href="#s" x="37.25" y="3.795"/><use href="#s" x="37.5" y="3.95"/><use href="#s" x="37.75" y="4.105"/><use href="#s" x="39.333" y="4.453"/><use href="#s" x="39.667" y="4.617"/><use href="#s" x="41.333" y="4.77"/>
<use href="#s" x="41.667" y="4.63"/><use href="#s" x="42.5" y="4.615"/><use href="#s" x="43.5" y="4.575"/><use href="#s" x="44.25" y="4.268"/><use href="#s" x="44.5" y="4.125"/><use href="#s" x="44.75" y="3.983"/><use href="#s" x="56.333" y="3.193"/><use href="#s" x="56.667" y="3.037"/><use href="#s" x="58.5" y="2.94"/><use href="#s" x="61.25" y="3.153"/>
<use href="#s" x="61.5" y="3.285"/><use href="#s" x="61.75" y="3.418"/><use href="#s" x="64.5" y="3.72"/><use href="#s" x="65.333" y="3.963"/><use href="#s" x="65.667" y="4.087"/><use href="#s" x="66.333" y="4.057"/><use href="#s" x="66.667" y="3.903"/><use href="#s" x="71.5" y="3.68"/><use href="#s" x="72.25" y="3.43"/><use href="#s" x="72.5" y="3.30"/>
<use href="#s" x="72.75" y="3.17"/><use href="#s" x="73.333" y="3.177"/><use href="#s" x="73.667" y="3.313"/><use href="#s" x="75.333" y="3.19"/><use href="#s" x="75.667" y="3.06"/><use href="#s" x="76.5" y="2.79"/><use href="#s" x="77.5" y="2.52"/><use href="#s" x="80.333" y="2.027"/><use href="#s" x="80.667" y="1.863"/><use href="#s" x="81.333" y="1.54"/>
<use href="#s" x="81.667" y="1.38"/><use href="#s" x="86.5" y="1.61"/><use href="#s" x="87.5" y="1.89"/><use href="#s" x="92.5" y="1.74"/><use href="#s" x="93.25" y="1.475"/><use href="#s" x="93.5" y="1.32"/><use href="#s" x="93.75" y="1.165"/>
</g>
<g fill="#DECF3F">
<use href="#b" x="0" y="1.85"/><use href="#b" x="1" y="1.82"/><use href="#b" x="2" y="2.05"/><use href="#b" x="3" y="1.79"/><use href="#b" x="4" y="1.98"/><use href="#b" x="5" y="2.20"/><use href="#b" x="6" y="2.50"/><use href="#b" x="7" y="2.65"/><use href="#b" x="8" y="2.60"/><use href="#b" x="9" y="2.26"/>
<use href="#b" x="10" y="2.00"/><use href="#b" x="11" y="1.85"/><use href="#b" x="12" y="1.80"/><use href="#b" x="13" y="1.54"/><use href="#b" x="14" y="1.33"/><use href="#b" x="15" y="1.43"/><use href="#b" x="16" y="1.72"/><use href="#b" x="17" y="1.90"/><use href="#b" x="18" y="2.11"/><use href="#b" x="19" y="2.03"/>
<use href="#b" x="20" y="2.24"/><use href="#b" x="21" y="2.34"/><use href="#b" x="22" y="2.15"/><use href="#b" x="23" y="2.02"/><use href="#b" x="24" y="1.89"/><use href="#b" x="25" y="2.21"/><use href="#b" x="26" y="2.36"/><use href="#b" x="27" y="2.29"/><use href="#b" x="28" y="2.41"/><use href="#b" x="29" y="2.49"/>
<use href="#b" x="30" y="2.73"/><use href="#b" x="31" y="2.85"/><use href="#b" x="32" y="2.72"/><use href="#b" x="33" y="2.62"/><use href="#b" x="34" y="2.48"/><use href="#b" x="35" y="2.47"/><use href="#b" x="36" y="2.43"/><use href="#b" x="37" y="2.25"/><use href="#b" x="38" y="2.11"/><use href="#b" x="39" y="2.25"/>
<use href="#b" x="40" y="2.16"/><use href="#b" x="41" y="2.11"/><use href="#b" x="42" y="2.20"/><use href="#b" x="43" y="2.31"/><use href="#b" x="44" y="2.18"/><use href="#b" x="45" y="2.31"/><use href="#b" x="46" y="2.41"/><use href="#b" x="47" y="2.36"/><use href="#b" x="48" y="2.31"/><use href="#b" x="49" y="2.11"/>
<use href="#b" x="50" y="2.01"/><use href="#b" x="51" y="2.38"/><use href="#b" x="52" y="2.50"/><use href="#b" x="53" y="2.18"/><use href="#b" x="54" y="2.15"/><use href="#b" x="55" y="2.20"/><use href="#b" x="56" y="2.45"/><use href="#b" x="57" y="2.65"/><use href="#b" x="58" y="2.38"/><use href="#b" x="59" y="2.43"/>
<use href="#b" x="60" y="2.40"/><use href="#b" x="61" y="2.48"/><use href="#b" x="62" y="2.48"/><use href="#b" x="63" y="2.37"/><use href="#b" x="64" y="2.41"/><use href="#b" x="65" y="2.35"/><use href="#b" x="66" y="2.06"/><use href="#b" x="67" y="2.06"/><use href="#b" x="68" y="2.00"/><use href="#b" x="69" y="1.98"/>
<use href="#b" x="70" y="1.96"/><use href="#b" x="71" y="1.68"/><use href="#b" x="72" y="1.68"/><use href="#b" x="73" y="1.74"/><use href="#b" x="74" y="1.79"/><use href="#b" x="75" y="1.89"/><use href="#b" x="76" y="1.74"/><use href="#b" x="77" y="1.65"/><use href="#b" x="78" y="1.98"/><use href="#b" x="79" y="2.00"/>
<use href="#b" x="80" y="2.06"/><use href="#b" x="81" y="2.13"/><use href="#b" x="82" y="1.94"/><use href="#b" x="83" y="2.22"/><use href="#b" x="84" y="2.24"/><use href="#b" x="85" y="1.94"/><use href="#b" x="86" y="2.11"/><use href="#b" x="87" y="2.17"/><use href="#b" x="88" y="2.47"/><use href="#b" x="89" y="2.76"/>
<use href="#b" x="90" y="2.61"/><use href="#b" x="91" y="2.58"/><use href="#b" x="92" y="2.61"/><use href="#b" x="93" y="2.33"/><use href="#b" x="94" y="2.43"/><use href="#b" x="95" y="1.98"/><use href="#b" x="96" y="1.76"/><use href="#b" x="97" y="2.06"/><use href="#b" x="98" y="1.98"/><use href="#b" x="99" y="2.00"/>
<use href="#s" x="2.5" y="1.92"/><use href="#s" x="5.5" y="2.35"/><use href="#s" x="8.5" y="2.43"/><use href="#s" x="9.5" y="2.13"/><use href="#s" x="12.5" y="1.67"/><use href="#s" x="15.5" y="1.575"/><use href="#s" x="24.5" y="2.05"/><use href="#s" x="29.5" y="2.61"/><use href="#s" x="50.333" y="2.133"/><use href="#s" x="50.667" y="2.257"/>
<use href="#s" x="52.5" y="2.34"/><use href="#s" x="55.5" y="2.325"/><use href="#s" x="57.5" y="2.515"/><use href="#s" x="65.5" y="2.205"/><use href="#s" x="70.5" y="1.82"/><use href="#s" x="77.5" y="1.815"/><use href="#s" x="82.5" y="2.08"/><use href="#s" x="84.5" y="2.09"/><use href="#s" x="87.5" y="2.32"/><use href="#s" x="88.5" y="2.615"/>
<use href="#s" x="92.5" y="2.47"/><use href="#s" x="94.333" y="2.28"/><use href="#s" x="94.667" y="2.13"/><use href="#s" x="95.5" y="1.87"/><use href="#s" x="96.5" y="1.91"/>
</g>
</g>

<g transform="matrix(16.2 0 0 0.306 265 1606)" fill="#808080">
<rect x="0" y="0" width="0.827" height="204"/><rect x="1" y="0" width="0.827" height="220"/><rect x="2" y="0" width="0.827" height="545"/><rect x="3" y="0" width="0.827" height="494"/><rect x="4" y="0" width="0.827" height="463"/><rect x="5" y="0" width="0.827" height="397"/><rect x="6" y="0" width="0.827" height="348"/><rect x="7" y="0" width="0.827" height="184"/><rect x="8" y="0" width="0.827" height="184"/><rect x="9" y="0" width="0.827" height="500"/>
<rect x="10" y="0" width="0.827" height="449"/><rect x="11" y="0" width="0.827" height="391"/><rect x="12" y="0" width="0.827" height="386"/><rect x="13" y="0" width="0.827" height="300"/><rect x="14" y="0" width="0.827" height="218"/><rect x="15" y="0" width="0.827" height="176"/><rect x="16" y="0" width="0.827" height="517"/><rect x="17" y="0" width="0.827" height="389"/><rect x="18" y="0" width="0.827" height="389"/><rect x="19" y="0" width="0.827" height="321"/>
<rect x="20" y="0" width="0.827" height="294"/><rect x="21" y="0" width="0.827" height="195"/><rect x="22" y="0" width="0.827" height="195"/><rect x="23" y="0" width="0.827" height="560"/><rect x="24" y="0" width="0.827" height="391"/><rect x="25" y="0" width="0.827" height="365"/><rect x="26" y="0" width="0.827" height="269"/><rect x="27" y="0" width="0.827" height="296"/><rect x="28" y="0" width="0.827" height="179"/><rect x="29" y="0" width="0.827" height="190"/>
<rect x="30" y="0" width="0.827" height="463"/><rect x="31" y="0" width="0.827" height="501"/><rect x="32" y="0" width="0.827" height="332"/><rect x="33" y="0" width="0.827" height="318"/><rect x="34" y="0" width="0.827" height="269"/><rect x="35" y="0" width="0.827" height="207"/><rect x="36" y="0" width="0.827" height="207"/><rect x="37" y="0" width="0.827" height="440"/><rect x="38" y="0" width="0.827" height="386"/><rect x="39" y="0" width="0.827" height="364"/>
<rect x="40" y="0" width="0.827" height="318"/><rect x="41" y="0" width="0.827" height="289"/><rect x="42" y="0" width="0.827" height="179"/><rect x="43" y="0" width="0.827" height="163"/><rect x="44" y="0" width="0.827" height="503"/><rect x="45" y="0" width="0.827" height="384"/><rect x="46" y="0" width="0.827" height="349"/><rect x="47" y="0" width="0.827" height="313"/><rect x="48" y="0" width="0.827" height="306"/><rect x="49" y="0" width="0.827" height="209"/>
<rect x="50" y="0" width="0.827" height="179"/><rect x="51" y="0" width="0.827" height="414"/><rect x="52" y="0" width="0.827" height="287"/><rect x="53" y="0" width="0.827" height="227"/><rect x="54" y="0" width="0.827" height="138"/><rect x="55" y="0" width="0.827" height="244"/><rect x="56" y="0" width="0.827" height="237"/><rect x="57" y="0" width="0.827" height="271"/><rect x="58" y="0" width="0.827" height="460"/><rect x="59" y="0" width="0.827" height="341"/>
<rect x="60" y="0" width="0.827" height="281"/><rect x="61" y="0" width="0.827" height="209"/><rect x="62" y="0" width="0.827" height="283"/><rect x="63" y="0" width="0.827" height="244"/><rect x="64" y="0" width="0.827" height="244"/><rect x="65" y="0" width="0.827" height="456"/><rect x="66" y="0" width="0.827" height="401"/><rect x="67" y="0" width="0.827" height="378"/><rect x="68" y="0" width="0.827" height="324"/><rect x="69" y="0" width="0.827" height="306"/>
<rect x="70" y="0" width="0.827" height="244"/><rect x="71" y="0" width="0.827" height="232"/><rect x="72" y="0" width="0.827" height="389"/><rect x="73" y="0" width="0.827" height="368"/><rect x="74" y="0" width="0.827" height="334"/><rect x="75" y="0" width="0.827" height="257"/><rect x="76" y="0" width="0.827" height="221"/><rect x="77" y="0" width="0.827" height="173"/><rect x="78" y="0" width="0.827" height="182"/><rect x="79" y="0" width="0.827" height="329"/>
<rect x="80" y="0" width="0.827" height="275"/><rect x="81" y="0" width="0.827" height="260"/><rect x="82" y="0" width="0.827" height="215"/><rect x="83" y="0" width="0.827" height="230"/><rect x="84" y="0" width="0.827" height="133"/><rect x="85" y="0" width="0.827" height="141"/><rect x="86" y="0" width="0.827" height="264"/><rect x="87" y="0" width="0.827" height="255"/><rect x="88" y="0" width="0.827" height="211"/><rect x="89" y="0" width="0.827" height="175"/>
<rect x="90" y="0" width="0.827" height="169"/><rect x="91" y="0" width="0.827" height="98"/><rect x="92" y="0" width="0.827" height="130"/><rect x="93" y="0" width="0.827" height="202"/><rect x="94" y="0" width="0.827" height="207"/><rect x="95" y="0" width="0.827" height="181"/><rect x="96" y="0" width="0.827" height="156"/><rect x="97" y="0" width="0.827" height="136"/><rect x="98" y="0" width="0.827" height="115"/><rect x="99" y="0" width="0.827" height="115"/>
</g>
<g font-size="33" fill="#8c8c8c" text-anchor="end">
<text x="236" y="1619">0</text>
<text x="236" y="1771" textLength="51" lengthAdjust="spacingAndGlyphs">500</text>
</g>
<text transform="translate(158,1697) rotate(-90)" text-anchor="middle" font-size="25" font-weight="bold" fill="#222" textLength="147" lengthAdjust="spacingAndGlyphs">samples (n)</text>
</svg>
</body></html>
